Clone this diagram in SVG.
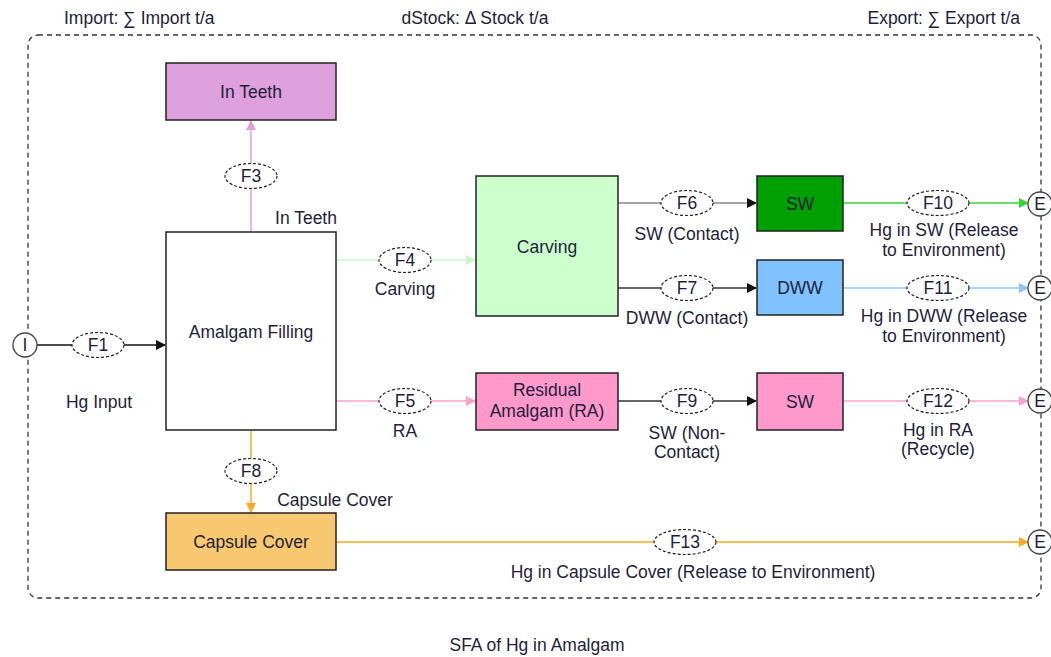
<svg xmlns="http://www.w3.org/2000/svg" width="1051" height="657" viewBox="0 0 1051 657">
  <defs>
    <style>
      text { font-family: "Liberation Sans", Arial, sans-serif; font-size: 17.5px; fill: #1e1e3c; }
      .mid { text-anchor: middle; }
      .box { stroke: #222; stroke-width: 1.5; }
      .flow { fill: none; stroke-width: 1.5; }
      .tag { fill: #fff; stroke: #222; stroke-width: 1.2; stroke-dasharray: 3 2; }
      .term { fill: #fff; stroke: #444; stroke-width: 1.3; }
    </style>
    <marker id="aBlack" markerWidth="10" markerHeight="10" refX="9" refY="5" orient="auto" markerUnits="userSpaceOnUse">
      <path d="M0,0 L10,5 L0,10 z" fill="#111"/>
    </marker>
    <marker id="aPlum" markerWidth="10" markerHeight="10" refX="9" refY="5" orient="auto" markerUnits="userSpaceOnUse">
      <path d="M0,0 L10,5 L0,10 z" fill="#dda0dd"/>
    </marker>
    <marker id="aLgreen" markerWidth="10" markerHeight="10" refX="9" refY="5" orient="auto" markerUnits="userSpaceOnUse">
      <path d="M0,0 L10,5 L0,10 z" fill="#c8f5c8"/>
    </marker>
    <marker id="aPink" markerWidth="10" markerHeight="10" refX="9" refY="5" orient="auto" markerUnits="userSpaceOnUse">
      <path d="M0,0 L10,5 L0,10 z" fill="#ffa0cc"/>
    </marker>
    <marker id="aOrange" markerWidth="10" markerHeight="10" refX="9" refY="5" orient="auto" markerUnits="userSpaceOnUse">
      <path d="M0,0 L10,5 L0,10 z" fill="#ffa820"/>
    </marker>
    <marker id="aGreen" markerWidth="10" markerHeight="10" refX="9" refY="5" orient="auto" markerUnits="userSpaceOnUse">
      <path d="M0,0 L10,5 L0,10 z" fill="#33d633"/>
    </marker>
    <marker id="aBlue" markerWidth="10" markerHeight="10" refX="9" refY="5" orient="auto" markerUnits="userSpaceOnUse">
      <path d="M0,0 L10,5 L0,10 z" fill="#88c4ff"/>
    </marker>
  </defs>

  <rect width="1051" height="657" fill="#fff"/>

  <!-- system boundary -->
  <g id="boundary">
    <rect x="28" y="35" width="1013" height="563" rx="10" ry="10" fill="none" stroke="#333" stroke-width="1.3" stroke-dasharray="5 4"/>
    <text x="64" y="24">Import: ∑ Import t/a</text>
    <text x="475" y="24" class="mid">dStock: Δ Stock t/a</text>
    <text x="1020" y="24" text-anchor="end">Export: ∑ Export t/a</text>
  </g>

  <!-- flows -->
  <g id="connectors">
    <path class="flow" d="M37,345 L165,345" stroke="#111" marker-end="url(#aBlack)"/>
    <path class="flow" d="M251,232 L251,121" stroke="#dda0dd" marker-end="url(#aPlum)"/>
    <path class="flow" d="M336,260 L475,260" stroke="#c8f5c8" marker-end="url(#aLgreen)"/>
    <path class="flow" d="M336,401 L475,401" stroke="#ffa0cc" marker-end="url(#aPink)"/>
    <path class="flow" d="M251,430 L251,512" stroke="#ffa820" marker-end="url(#aOrange)"/>
    <path class="flow" d="M618,203 L756,203" stroke="#888" marker-end="url(#aBlack)"/>
    <path class="flow" d="M618,288 L756,288" stroke="#333" marker-end="url(#aBlack)"/>
    <path class="flow" d="M618,401 L756,401" stroke="#333" marker-end="url(#aBlack)"/>
    <path class="flow" d="M843,203 L1028,203" stroke="#33d633" marker-end="url(#aGreen)"/>
    <path class="flow" d="M843,288 L1028,288" stroke="#88c4ff" marker-end="url(#aBlue)"/>
    <path class="flow" d="M843,401 L1028,401" stroke="#ffa0cc" marker-end="url(#aPink)"/>
    <path class="flow" d="M336,542 L1028,542" stroke="#ffa820" marker-end="url(#aOrange)"/>

    <g id="flow-tags">
      <ellipse class="tag" cx="98" cy="345" rx="26" ry="12.5"/><text x="98" y="351" class="mid">F1</text>
      <ellipse class="tag" cx="251" cy="176" rx="26" ry="12.5"/><text x="251" y="182" class="mid">F3</text>
      <ellipse class="tag" cx="405" cy="260" rx="26" ry="12.5"/><text x="405" y="266" class="mid">F4</text>
      <ellipse class="tag" cx="405" cy="401" rx="26" ry="12.5"/><text x="405" y="407" class="mid">F5</text>
      <ellipse class="tag" cx="687" cy="203" rx="26" ry="12.5"/><text x="687" y="209" class="mid">F6</text>
      <ellipse class="tag" cx="687" cy="288" rx="26" ry="12.5"/><text x="687" y="294" class="mid">F7</text>
      <ellipse class="tag" cx="251" cy="471" rx="26" ry="12.5"/><text x="251" y="477" class="mid">F8</text>
      <ellipse class="tag" cx="687" cy="401" rx="26" ry="12.5"/><text x="687" y="407" class="mid">F9</text>
      <ellipse class="tag" cx="938" cy="203" rx="31" ry="12.5"/><text x="938" y="209" class="mid">F10</text>
      <ellipse class="tag" cx="938" cy="288" rx="31" ry="12.5"/><text x="938" y="294" class="mid">F11</text>
      <ellipse class="tag" cx="938" cy="401" rx="31" ry="12.5"/><text x="938" y="407" class="mid">F12</text>
      <ellipse class="tag" cx="685" cy="542" rx="31" ry="12.5"/><text x="685" y="548" class="mid">F13</text>
    </g>

    <g id="flow-labels">
      <text x="99" y="408" class="mid">Hg Input</text>
      <text x="306" y="224" class="mid">In Teeth</text>
      <text x="405" y="295" class="mid">Carving</text>
      <text x="405" y="437" class="mid">RA</text>
      <text x="335" y="506" class="mid">Capsule Cover</text>
      <text x="687" y="240" class="mid">SW (Contact)</text>
      <text x="687" y="324" class="mid">DWW (Contact)</text>
      <text x="687" y="439" class="mid">SW (Non-</text>
      <text x="687" y="458" class="mid">Contact)</text>
      <text x="944" y="236" class="mid">Hg in SW (Release</text>
      <text x="944" y="256" class="mid">to Environment)</text>
      <text x="944" y="322" class="mid">Hg in DWW (Release</text>
      <text x="944" y="342" class="mid">to Environment)</text>
      <text x="938" y="436" class="mid">Hg in RA</text>
      <text x="938" y="455" class="mid">(Recycle)</text>
      <text x="693" y="578" class="mid">Hg in Capsule Cover (Release to Environment)</text>
    </g>
  </g>

  <!-- terminals -->
  <g id="import-I">
    <circle class="term" cx="25" cy="345" r="12"/><text x="25" y="351" class="mid">I</text>
  </g>
  <g id="export-E1">
    <circle class="term" cx="1040" cy="204" r="12"/><text x="1040" y="210" class="mid">E</text>
  </g>
  <g id="export-E2">
    <circle class="term" cx="1040" cy="288" r="12"/><text x="1040" y="294" class="mid">E</text>
  </g>
  <g id="export-E3">
    <circle class="term" cx="1040" cy="401" r="12"/><text x="1040" y="407" class="mid">E</text>
  </g>
  <g id="export-E4">
    <circle class="term" cx="1040" cy="542" r="12"/><text x="1040" y="548" class="mid">E</text>
  </g>

  <!-- processes -->
  <g id="in-teeth">
    <rect class="box" x="166" y="63" width="170" height="57" fill="#dda0dd"/>
    <text x="251" y="98" class="mid">In Teeth</text>
  </g>
  <g id="amalgam-filling">
    <rect class="box" x="166" y="232" width="170" height="198" fill="#fff"/>
    <text x="251" y="338" class="mid">Amalgam Filling</text>
  </g>
  <g id="carving">
    <rect class="box" x="476" y="176" width="142" height="140" fill="#ccffcc"/>
    <text x="547" y="253" class="mid">Carving</text>
  </g>
  <g id="sw-contact">
    <rect class="box" x="757" y="176" width="86" height="55" fill="#00a000"/>
    <text x="800" y="210" class="mid">SW</text>
  </g>
  <g id="dww">
    <rect class="box" x="757" y="260" width="86" height="55" fill="#80c2ff"/>
    <text x="800" y="294" class="mid">DWW</text>
  </g>
  <g id="residual-amalgam">
    <rect class="box" x="476" y="373" width="142" height="57" fill="#ff99cc"/>
    <text x="547" y="396" class="mid">Residual</text>
    <text x="547" y="417" class="mid">Amalgam (RA)</text>
  </g>
  <g id="sw-noncontact">
    <rect class="box" x="757" y="373" width="86" height="57" fill="#ff99cc"/>
    <text x="800" y="408" class="mid">SW</text>
  </g>
  <g id="capsule-cover">
    <rect class="box" x="166" y="513" width="170" height="57" fill="#f8c870"/>
    <text x="251" y="548" class="mid">Capsule Cover</text>
  </g>

  <text x="537" y="651" class="mid">SFA of Hg in Amalgam</text>
</svg>
